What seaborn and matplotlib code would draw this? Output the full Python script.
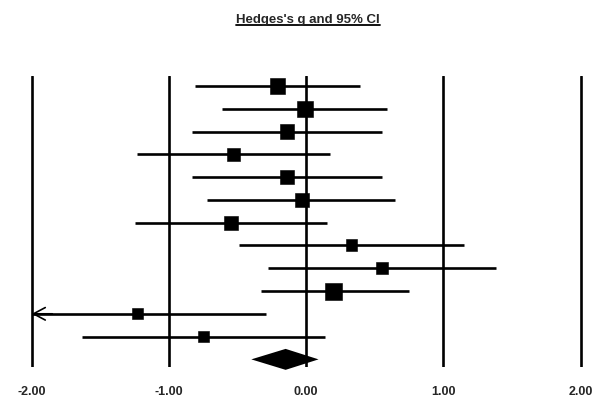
import numpy as np
import pandas as pd
import matplotlib
matplotlib.use("Agg")
import matplotlib.pyplot as plt
from matplotlib.lines import Line2D
import seaborn as sns

# --- data ---
studies = ["S1", "S2", "S3", "S4", "S5", "S6", "S7", "S8", "S9", "S10", "S11", "S12"]
hedges_g = [-0.21, -0.01, -0.14, -0.53, -0.14, -0.03, -0.55, 0.33, 0.55, 0.20, -1.23, -0.75]
ci_lower = [-0.81, -0.61, -0.83, -1.23, -0.83, -0.72, -1.25, -0.49, -0.28, -0.33, -2.20, -1.63]
ci_upper = [0.39, 0.59, 0.55, 0.17, 0.55, 0.65, 0.15, 1.15, 1.38, 0.75, -0.29, 0.14]
weight = [10.1, 11.0, 9.3, 7.6, 9.3, 8.8, 8.5, 6.2, 6.2, 12.5, 4.9, 5.5]  # relative weight, %
summary_g = -0.15
summary_lower = -0.40
summary_upper = 0.09
x_ticks = [-2.0, -1.0, 0.0, 1.0, 2.0]
title = "Hedges's g and 95% CI"

df = pd.DataFrame({"study": studies, "g": hedges_g, "lo": ci_lower,
                   "hi": ci_upper, "weight": weight})
df["row"] = np.arange(len(df))
xmin, xmax = x_ticks[0], x_ticks[-1]
df["lo_clip"] = df["lo"].clip(lower=xmin)
summary_row = len(df)

sns.set_theme(style="white")
plt.rcParams["font.family"] = ["Liberation Sans", "DejaVu Sans"]

fig = plt.figure(figsize=(5.94, 3.98), dpi=100)
ax = fig.add_axes([0.03485, 0.07789, 0.9613, 0.7312])

# reference lines
for t in x_ticks:
    ax.axvline(t, color="black", lw=1.9, zorder=1)

# confidence intervals
ax.hlines(df["row"], df["lo_clip"], df["hi"], color="black", lw=1.9, zorder=2)
for _, r in df[df["lo"] < xmin].iterrows():
    ax.annotate("", xy=(xmin, r["row"]), xytext=(xmin + 0.15, r["row"]),
                arrowprops=dict(arrowstyle="->,head_length=0.85,head_width=0.45",
                                color="black", lw=1.2, shrinkA=0, shrinkB=0,
                                mutation_scale=10), zorder=2)

# point estimates, square size ~ weight
area = 23.18 * 0.5184
sns.scatterplot(data=df, x="g", y="row", size="weight",
                sizes=(min(weight) * area, max(weight) * area),
                marker="s", color="black", edgecolor="black", linewidth=0.4,
                legend=False, ax=ax, zorder=3)

# summary diamond
h = 0.46
ax.fill([summary_lower, summary_g, summary_upper, summary_g],
        [summary_row, summary_row - h, summary_row, summary_row + h],
        color="black", lw=0, zorder=3, clip_on=False)

ax.set_xlim(-2.08, 2.08)
ax.set_ylim(12.335, -0.439)
ax.set_xticks(x_ticks)
ax.set_xticklabels([f"{t:.2f}" for t in x_ticks], fontsize=9, fontweight="bold")
ax.tick_params(axis="x", length=0, pad=14)
ax.set_yticks([])
ax.set_xlabel("")
ax.set_ylabel("")
for s in ax.spines.values():
    s.set_visible(False)

# underlined title
tt = fig.text(0.5185, 0.943, title, ha="center", va="baseline",
              fontsize=9.5, fontweight="bold")
fig.canvas.draw()
bb = tt.get_window_extent().transformed(fig.transFigure.inverted())
uy = 1 - 24.7 / 398
fig.add_artist(Line2D([bb.x0, bb.x1], [uy, uy], color="black", lw=1.3,
                      transform=fig.transFigure))

fig.savefig("out.png", dpi=100)
